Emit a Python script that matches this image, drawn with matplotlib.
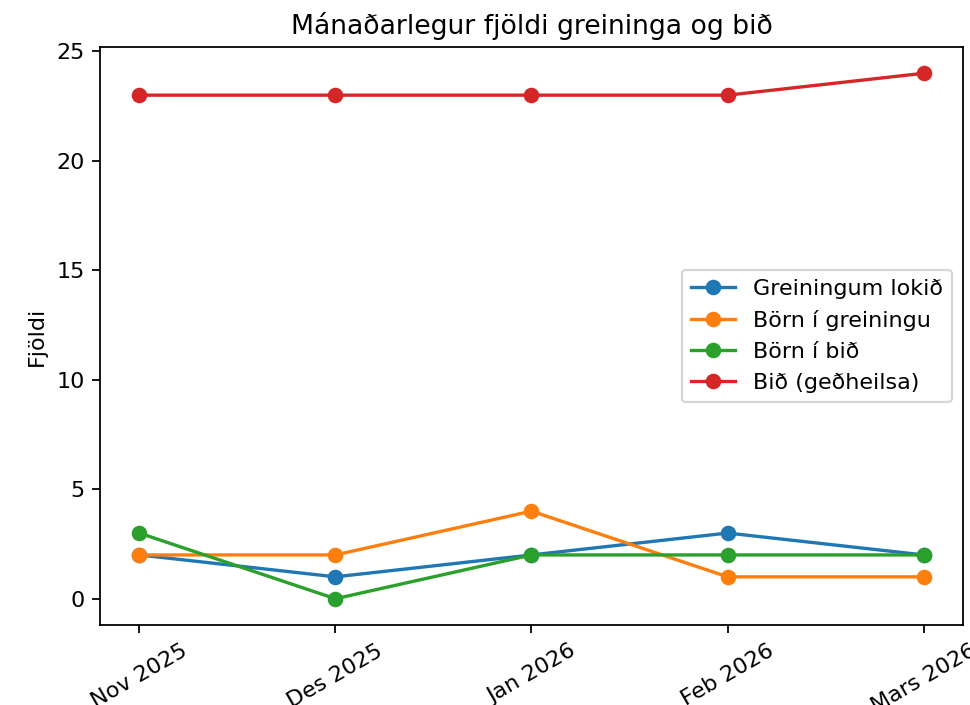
import matplotlib
matplotlib.use("Agg")
import matplotlib.pyplot as plt

months = ["Nov 2025", "Des 2025", "Jan 2026", "Feb 2026", "Mars 2026"]
greiningum_lokid = [2, 1, 2, 3, 2]
born_i_greiningu = [2, 2, 4, 1, 1]
born_i_bid = [3, 0, 2, 2, 2]
bid_gedheilsa = [23, 23, 23, 23, 24]

DPI = 160
fig = plt.figure(figsize=(970 / DPI, 705 / DPI), dpi=DPI)
ax = fig.add_axes([100 / 970, 1 - 625 / 705, 863 / 970, 578 / 705])

x = range(len(months))
ax.plot(x, greiningum_lokid, marker="o", label="Greiningum lokið")
ax.plot(x, born_i_greiningu, marker="o", label="Börn í greiningu")
ax.plot(x, born_i_bid, marker="o", label="Börn í bið")
ax.plot(x, bid_gedheilsa, marker="o", label="Bið (geðheilsa)")

ax.set_xticks(list(x))
ax.set_xticklabels(months, rotation=30)
ax.set_ylabel("Fjöldi")
ax.set_title("Mánaðarlegur fjöldi greininga og bið")
ax.legend(loc="center right")

fig.savefig("out.png", dpi=DPI)
